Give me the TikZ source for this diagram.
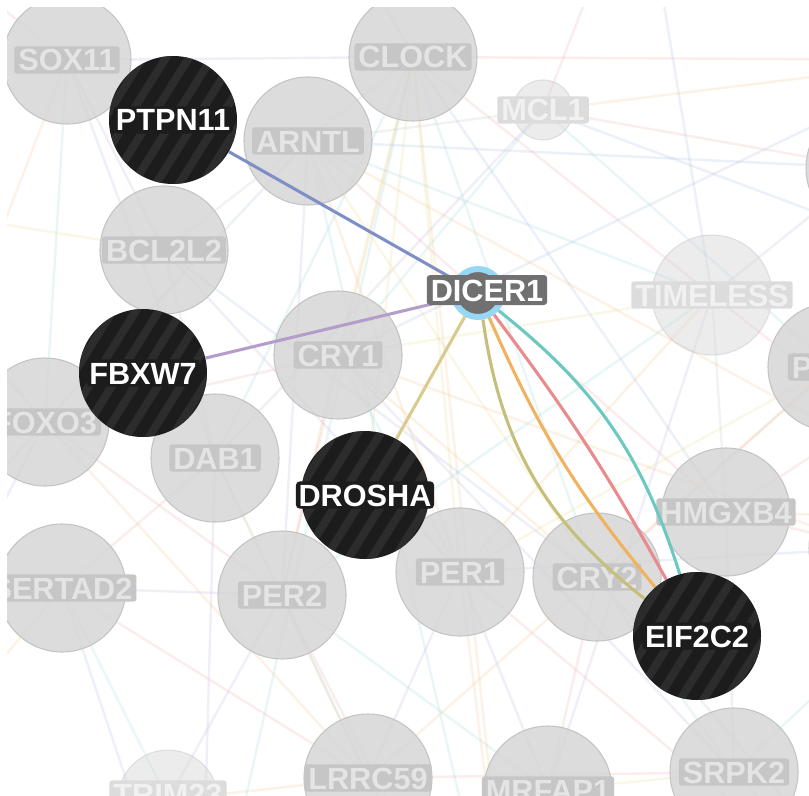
\documentclass[tikz,border=0pt]{standalone}
\usepackage{fontspec}
\setmainfont{Liberation Sans}
\usetikzlibrary{calc}

\pgfdeclarelayer{bg}
\pgfdeclarelayer{edges}
\pgfdeclarelayer{fg}
\pgfsetlayers{bg,main,edges,fg}

% node colours
\definecolor{nodegray}{HTML}{D6D6D6}
\definecolor{nodeedge}{HTML}{C4C4C4}
\definecolor{labbox}{HTML}{C6C6C6}
\definecolor{labtext}{HTML}{E4E4E4}
\definecolor{fadebox}{HTML}{DCDCDC}
\definecolor{fadetext}{HTML}{F1F1F1}
\definecolor{hubfill}{HTML}{1C1C1C}
\definecolor{hubstripe}{HTML}{3A3A3A}
\definecolor{dicerfill}{HTML}{707070}
\definecolor{halo}{HTML}{96D7F3}
% highlighted interaction colours
\definecolor{ePTPN}{HTML}{7F8EC6}
\definecolor{eFBXW}{HTML}{B59DC9}
\definecolor{eDROSHA}{HTML}{D9CB8E}
\definecolor{eOlive}{HTML}{C6BF7C}
\definecolor{eOrange}{HTML}{F0B25E}
\definecolor{eRed}{HTML}{E98A8C}
\definecolor{eTeal}{HTML}{6CC9C1}
% faint network colours
\definecolor{bgA}{HTML}{F2AEB0}
\definecolor{bgB}{HTML}{F5C58A}
\definecolor{bgC}{HTML}{A9BEE0}
\definecolor{bgD}{HTML}{9CD9E0}
\definecolor{bgE}{HTML}{C6B3DD}
\definecolor{bgF}{HTML}{EBDD8F}
\definecolor{bgG}{HTML}{C8C8C8}

\tikzset{
  labfont/.style={font=\fontsize{23}{23}\selectfont\bfseries},
  labbox/.style={labfont, inner xsep=3pt, inner ysep=2pt,
    text height=16.5pt, text depth=0pt},
  gene/.style={circle, minimum size=96pt, inner sep=0pt, fill=nodegray,
    fill opacity=0.85, draw=nodeedge, line width=0.8pt},
  faded/.style={fill opacity=0.45, draw opacity=0.45},
  genelabel/.style={labbox, fill=labbox, text=labtext, rounded corners=2pt},
  fadedlabel/.style={labbox, fill=fadebox, text=fadetext, rounded corners=2pt},
  hub/.style={circle, minimum size=96pt, inner sep=0pt, fill=hubfill},
  hublabel/.style={labbox, fill=hubfill, text=white, rounded corners=3pt,
    inner xsep=2pt},
  hl/.style={line width=2.3pt},
  bgline/.style={line width=1.8pt, opacity=0.22},
}

% a dark hub gene with diagonal sheen stripes
\newcommand\hubnode[3]{%
  \node[hub] (#1) at (#2) {};
  \begin{scope}
    \clip (#1.center) circle[radius=48pt];
    \foreach \k in {-5,...,5}
      \draw[hubstripe, line width=6pt, opacity=0.55]
        ($(#1.center)+(\k*23-50,80)$) -- ++(100,-160);
  \end{scope}
  \node[hublabel] at (#1.center) {#3};
}

\begin{document}
\begin{tikzpicture}[x=0.75pt,y=-0.75pt]
\useasboundingbox (0,0) rectangle (809,795);

% ---- background genes
\node[gene] (sox) at (67,60) {};
\node[gene] (arntl) at (308,141) {};
\node[gene] (clock) at (413,57) {};
\node[gene] (bcl) at (164,250) {};
\node[gene, faded, minimum size=45pt] (mcl) at (543,110) {};
\node[gene, faded, minimum size=90pt] (timeless) at (712,295) {};
\node[gene] (per3) at (832,367) {};
\node[gene] (rtop) at (870,168) {};
\node[gene] (rmid) at (873,548) {};
\node[gene] (cry1) at (338,355) {};
\node[gene] (foxo3) at (45,422) {};
\node[gene] (dab1) at (215,458) {};
\node[gene] (sertad) at (62,588) {};
\node[gene] (per2) at (282,595) {};
\node[gene] (per1) at (460,572) {};
\node[gene] (cry2) at (597,577) {};
\node[gene] (hmgxb4) at (726,512) {};
\node[gene] (srpk2) at (734,772) {};
\node[gene] (lrrc59) at (368,778) {};
\node[gene] (mrfap1) at (548,790) {};
\node[gene, faded, minimum size=75pt] (trim) at (168,800) {};

\node[genelabel] at (sox) {SOX11};
\node[genelabel] at (arntl) {ARNTL};
\node[genelabel] at (clock) {CLOCK};
\node[genelabel] at (bcl) {BCL2L2};
\node[fadedlabel] at (mcl) {MCL1};
\node[fadedlabel] at (timeless) {TIMELESS};
\node[genelabel] at (per3) {PER3};
\node[genelabel] at (cry1) {CRY1};
\node[genelabel] at (foxo3) {FOXO3};
\node[genelabel] at (dab1) {DAB1};
\node[genelabel] at (sertad) {SERTAD2};
\node[genelabel] at (per2) {PER2};
\node[genelabel] at (per1) {PER1};
\node[genelabel] at (cry2) {CRY2};
\node[genelabel] at (hmgxb4) {HMGXB4};
\node[genelabel] at (srpk2) {SRPK2};
\node[genelabel] at (lrrc59) {LRRC59};
\node[genelabel] at (mrfap1) {MRFAP1};
\node[fadedlabel] at ($(trim)+(0,-6)$) {TRIM23};

% partners lying beyond the frame
\coordinate (o1) at (-150,200);
\coordinate (o2) at (300,-150);
\coordinate (o3) at (950,60);
\coordinate (o4) at (1000,520);
\coordinate (o5) at (920,960);
\coordinate (o6) at (200,1000);
\coordinate (o7) at (-160,650);
\coordinate (o8) at (640,-140);
\coordinate (o9) at (-120,-90);
\coordinate (o10) at (1050,300);
\coordinate (o11) at (520,1060);
\coordinate (o12) at (-200,900);

% ---- hub genes and the query gene
\begin{pgfonlayer}{fg}
\hubnode{ptpn}{173,120}{PTPN11}
\hubnode{fbxw7}{143,373}{FBXW7}
\hubnode{drosha}{365,495}{DROSHA}
\hubnode{eif}{697,636}{EIF2C2}
\node[circle, minimum size=36pt, inner sep=0pt, fill=dicerfill, draw=halo,
  line width=4.5pt] (dicer) at (478,293) {};
\node[labbox, fill=dicerfill, text=white, rounded corners=2.5pt,
  inner xsep=3pt, inner ysep=3pt] at (487,290) {DICER1};
% white frame strips at the left and top
\fill[white] (0,0) rectangle (7,795);
\fill[white] (0,0) rectangle (809,7);
\end{pgfonlayer}

% ---- faint network underneath
\begin{pgfonlayer}{bg}
\fill[white] (0,0) rectangle (809,795);
\foreach \a/\b/\c in {
  clock/per1/bgF, clock/cry2/bgD, clock/per2/bgB, clock/cry1/bgF,
  clock/dab1/bgD, clock/timeless/bgA, clock/hmgxb4/bgC, clock/o3/bgA,
  clock/sox/bgE, clock/o2/bgC, clock/bcl/bgG, clock/drosha/bgF,
  clock/o6/bgD, clock/o11/bgB,
  arntl/per1/bgB, arntl/cry2/bgF, arntl/per2/bgE, arntl/timeless/bgD,
  arntl/hmgxb4/bgA, arntl/foxo3/bgC, arntl/o4/bgB, arntl/mcl/bgG,
  arntl/o11/bgD,
  cry1/per2/bgA, cry1/cry2/bgB, cry1/per1/bgD, cry1/timeless/bgF,
  cry1/o3/bgC, cry1/srpk2/bgE, cry1/foxo3/bgA,
  timeless/per1/bgB, timeless/per2/bgD, timeless/o8/bgC, timeless/o4/bgA,
  timeless/hmgxb4/bgG, timeless/mrfap1/bgE,
  per3/cry2/bgA, per3/o3/bgC, per3/lrrc59/bgB, per3/mcl/bgD, per3/per1/bgF,
  sox/bcl/bgE, sox/o9/bgA, sox/dab1/bgC, sox/o7/bgB, sox/foxo3/bgD,
  bcl/dab1/bgA, bcl/o1/bgF, bcl/per1/bgE, bcl/cry2/bgC,
  foxo3/o7/bgE, foxo3/per2/bgA, foxo3/o12/bgC, foxo3/lrrc59/bgB,
  foxo3/o1/bgE,
  dab1/per2/bgD, dab1/o6/bgE, dab1/lrrc59/bgF, dab1/sertad/bgA,
  sertad/o6/bgC, sertad/per2/bgE, sertad/lrrc59/bgA, sertad/o12/bgB,
  sertad/trim/bgD,
  per2/lrrc59/bgC, per2/o11/bgA, per2/trim/bgE, per2/mrfap1/bgD,
  per1/lrrc59/bgE, per1/mrfap1/bgC, per1/o5/bgA, per1/o11/bgB,
  cry2/srpk2/bgD, cry2/mrfap1/bgA, cry2/o5/bgE,
  hmgxb4/o4/bgB, hmgxb4/srpk2/bgE, hmgxb4/o10/bgA,
  srpk2/o5/bgC, srpk2/lrrc59/bgA, srpk2/mrfap1/bgF, srpk2/o4/bgD,
  lrrc59/o11/bgE, lrrc59/trim/bgB, mrfap1/o5/bgC,
  mcl/o8/bgA, mcl/o3/bgB, mcl/o10/bgC, mcl/cry1/bgD, mcl/dab1/bgE,
  trim/o6/bgA, trim/o12/bgD,
  rtop/o10/bgB, rtop/mcl/bgA, rtop/arntl/bgC, rtop/timeless/bgE,
  rmid/hmgxb4/bgA, rmid/per1/bgC, rmid/o5/bgF, rmid/cry1/bgB}
  \draw[bgline, \c] (\a.center) -- (\b.center);
\end{pgfonlayer}

% ---- interactions of DICER1
\begin{pgfonlayer}{edges}
\draw[hl, ePTPN] (ptpn) -- (dicer);
\draw[hl, eFBXW] (fbxw7) -- (dicer);
\draw[hl, eDROSHA] (drosha) -- (dicer);
\draw[hl, eOlive] (dicer) to[bend right=22] (eif);
\draw[hl, eOrange] (dicer) to[bend right=8] (eif);
\draw[hl, eRed] (dicer) to[bend left=4] (eif);
\draw[hl, eTeal] (dicer) to[bend left=17] (eif);
\end{pgfonlayer}
\end{tikzpicture}
\end{document}
